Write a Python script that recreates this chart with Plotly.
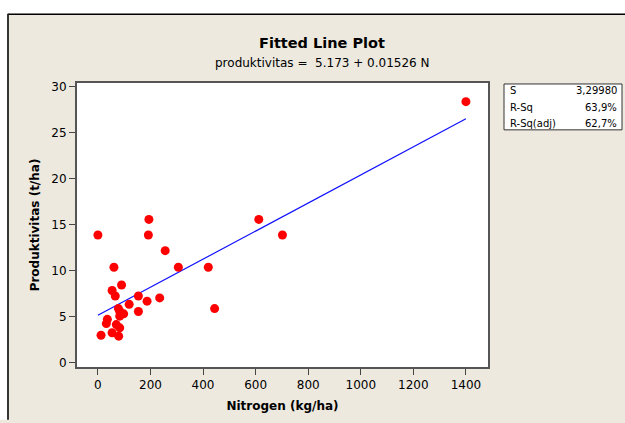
import numpy as np
import plotly.graph_objects as go

# Data
nitrogen = [0, 194, 192, 256, 61, 306, 420, 54, 90, 66, 154, 235, 187, 119, 78,
            83, 98, 83, 154, 444, 36, 32, 70, 83, 54, 12, 79, 612, 702, 1400]
produktivitas = [13.9, 15.6, 13.9, 12.2, 10.4, 10.4, 10.4, 7.87, 8.47, 7.27, 7.27,
                 7.06, 6.71, 6.36, 5.9, 5.58, 5.33, 5.08, 5.58, 5.9, 4.73, 4.27,
                 4.16, 3.81, 3.28, 3.0, 2.9, 15.6, 13.9, 28.4]
coef_intercept = 5.173
coef_slope = 0.01526
stat_labels = ["S", "R-Sq", "R-Sq(adj)"]
stat_values = ["3,29980", "63,9%", "62,7%"]
x_ticks = [0, 200, 400, 600, 800, 1000, 1200, 1400]
y_ticks = [0, 5, 10, 15, 20, 25, 30]

W, H = 625, 423
L, R, T, B = 77, 488, 83, 374  # plot area in px

def px(x):
    return (x - L) / (R - L)

def py(y):
    return (B - y) / (B - T)

FONT = "DejaVu Sans"
BEIGE = "#EDE9DF"

xs = np.linspace(min(nitrogen), max(nitrogen), 30)
fit = coef_intercept + coef_slope * xs

fig = go.Figure()
fig.add_trace(go.Scatter(x=xs, y=fit, mode="lines",
                         line=dict(color="#1010FF", width=1.2), showlegend=False))
fig.add_trace(go.Scatter(x=nitrogen, y=produktivitas, mode="markers",
                         marker=dict(color="#FF0000", size=9, line=dict(width=0)),
                         showlegend=False))

shapes = [
    dict(type="rect", xref="paper", yref="paper", x0=px(-5), x1=px(W + 5), y0=py(-5), y1=py(12),
         fillcolor="white", line=dict(width=0)),
    dict(type="rect", xref="paper", yref="paper", x0=px(-5), x1=px(7), y0=py(-5), y1=py(H + 5),
         fillcolor="white", line=dict(width=0)),
    dict(type="line", xref="paper", yref="paper", x0=px(8), x1=px(W + 5), y0=py(12.5), y1=py(12.5),
         line=dict(color="black", width=1.5)),
    dict(type="line", xref="paper", yref="paper", x0=px(8), x1=px(8), y0=py(12), y1=py(H + 5),
         line=dict(color="#222", width=1.8)),
    dict(type="rect", xref="paper", yref="paper", x0=px(504), x1=px(622), y0=py(84), y1=py(131),
         fillcolor="white", line=dict(color="#333", width=1)),
]

annotations = [
    dict(text="<b>Fitted Line Plot</b>", x=px(322), y=py(42), xref="paper", yref="paper",
         showarrow=False, font=dict(family=FONT, size=14.5, color="black"), xanchor="center", yanchor="middle"),
    dict(text="produktivitas =  %.3f + %.5f N" % (coef_intercept, coef_slope), x=px(322), y=py(62),
         xref="paper", yref="paper", showarrow=False,
         font=dict(family=FONT, size=12, color="black"), xanchor="center", yanchor="middle"),
]
row_y = [91, 108, 124]
for lab, val, ry in zip(stat_labels, stat_values, row_y):
    annotations.append(dict(text=lab, x=px(508), y=py(ry), xref="paper", yref="paper",
                            showarrow=False, xanchor="left", yanchor="middle",
                            font=dict(family=FONT, size=10, color="black")))
    annotations.append(dict(text=val, x=px(619), y=py(ry), xref="paper", yref="paper",
                            showarrow=False, xanchor="right", yanchor="middle",
                            font=dict(family=FONT, size=10, color="black")))

fig.update_layout(
    width=W, height=H,
    margin=dict(l=L, r=W - R, t=T, b=H - B, pad=0),
    paper_bgcolor=BEIGE, plot_bgcolor="white",
    shapes=shapes, annotations=annotations,
    font=dict(family=FONT, size=12, color="black"),
    xaxis=dict(range=[-79.5, 1484], tickvals=x_ticks, ticks="outside", ticklen=6,
               tickcolor="#444", showgrid=False, zeroline=False, showline=True, mirror=True,
               linecolor="#555", linewidth=2, tickfont=dict(family=FONT, size=12),
               title=dict(text="<b>Nitrogen (kg/ha)</b>", font=dict(family=FONT, size=12), standoff=10)),
    yaxis=dict(range=[-0.45, 30.43], tickvals=y_ticks, ticks="outside", ticklen=6,
               tickcolor="#444", showgrid=False, zeroline=False, showline=True, mirror=True,
               linecolor="#555", linewidth=2, tickfont=dict(family=FONT, size=12),
               title=dict(text="<b>Produktivitas (t/ha)</b>", font=dict(family=FONT, size=12), standoff=9)),
)

fig.write_html("out.html", config={"displayModeBar": False},
               post_script="document.body.style.margin='0';document.body.style.overflow='hidden';")
